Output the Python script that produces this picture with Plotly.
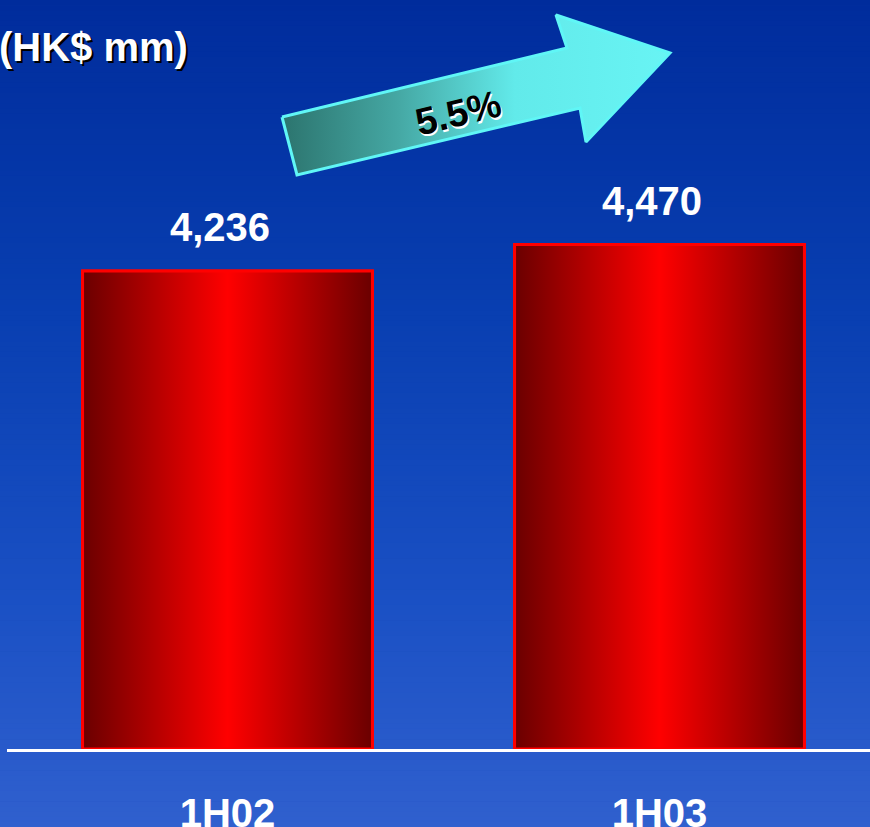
import plotly.graph_objects as go

# ---- data ----
categories = ["1H02", "1H03"]
values = [4236, 4470]
value_labels = ["4,236", "4,470"]
growth_label = "5.5%"
unit_label = "(HK$ mm)"

W, H = 870, 827
FONT = "Liberation Sans, Arial, sans-serif"

xpos = list(range(len(categories)))
bar_w = 0.671

fig = go.Figure()

# bar trace (data)
fig.add_trace(go.Bar(x=xpos, y=values, width=bar_w, marker=dict(color="#d00000", line=dict(color="#ff0000", width=3)),
                     showlegend=False, hoverinfo="skip"))

# gradient overlay for each bar, derived from the data
for xi, v in zip(xpos, values):
    x0, x1 = xi - bar_w / 2, xi + bar_w / 2
    fig.add_trace(go.Scatter(
        x=[x0, x1, x1, x0, x0], y=[0, 0, v, v, 0], mode="lines", fill="toself",
        line=dict(color="#ff0000", width=3),
        fillgradient=dict(type="horizontal",
                          colorscale=[[0, "#6a0000"], [0.5, "#ff0000"], [1, "#6a0000"]]),
        showlegend=False, hoverinfo="skip"))

# arrow on pixel overlay axes
ax = [282, 567, 556, 670, 586, 580, 297, 282]
ay = [117, 48, 15, 53, 142, 108, 175, 117]
fig.add_trace(go.Scatter(
    x=ax, y=ay, xaxis="x2", yaxis="y2", mode="lines", fill="toself",
    line=dict(color="#60f6f6", width=3),
    fillgradient=dict(type="horizontal",
                      colorscale=[[0, "#2c746e"], [0.3, "#45a8a4"], [0.6, "#62eaea"], [1, "#68f4f4"]]),
    showlegend=False, hoverinfo="skip"))

annotations = []
# value labels
for xi, v, t in zip(xpos, values, value_labels):
    annotations.append(dict(x=xi, y=v, xref="x", yref="y", text=f"<b>{t}</b>", showarrow=False,
                            xshift=-8, yshift=20, yanchor="bottom",
                            font=dict(family=FONT, size=40, color="white")))
# growth text with light shadow
for dx, dy, col in [(1.5, 1.5, "white"), (0, 0, "black")]:
    annotations.append(dict(x=458 + dx, y=113 + dy, xref="x2", yref="y2", text=f"<b>{growth_label}</b>",
                            showarrow=False, textangle=-13.5,
                            font=dict(family=FONT, size=38, color=col)))
# unit label with dark shadow
for dx, dy, col in [(2, 2, "black"), (0, 0, "white")]:
    annotations.append(dict(x=0, y=47, xref="x2", yref="y2", xshift=-3 + dx, yshift=-dy,
                            text=f"<b>{unit_label}</b>",
                            showarrow=False, xanchor="left", yanchor="middle",
                            font=dict(family=FONT, size=40, color=col)))

# background gradient strips
stops = [(0, (0, 44, 156)), (300, (8, 62, 176)), (600, (26, 80, 196)), (827, (48, 96, 206))]
shapes = []
n = 160
for i in range(n):
    y0 = H * i / n
    y1 = H * (i + 1) / n + 0.6
    ym = (y0 + y1) / 2
    for (sa, ca), (sb, cb) in zip(stops[:-1], stops[1:]):
        if sa <= ym <= sb:
            t = (ym - sa) / (sb - sa)
            c = tuple(int(round(a + (b - a) * t)) for a, b in zip(ca, cb))
            break
    shapes.append(dict(type="rect", xref="paper", yref="paper", x0=0, x1=1,
                       y0=1 - y1 / H, y1=1 - y0 / H, line=dict(width=0),
                       fillcolor=f"rgb{c}", layer="below"))

x_left, x_right, x_c0 = 7, 870, 227.5
scale = 432.0
base_px = 749
yscale = 478 / 4236

fig.update_layout(
    width=W, height=H, margin=dict(l=0, r=0, t=0, b=0, autoexpand=False),
    paper_bgcolor="#1040b0", plot_bgcolor="rgba(0,0,0,0)",
    shapes=shapes, annotations=annotations, showlegend=False,
    xaxis=dict(domain=[x_left / W, 1], range=[-(x_c0 - x_left) / scale, (x_right - x_c0) / scale],
               tickvals=xpos, ticktext=[f"<b>{c}</b>" for c in categories],
               tickfont=dict(family=FONT, size=40, color="white"),
               showgrid=False, zeroline=False, showline=True, linecolor="white", linewidth=3,
               ticks="", ticklabelstandoff=27, automargin=False, fixedrange=True),
    yaxis=dict(domain=[(H - base_px) / H, 1], range=[0, base_px / yscale], automargin=False,
               showgrid=False, zeroline=False, showticklabels=False, showline=False, fixedrange=True),
    xaxis2=dict(domain=[0, 1], range=[0, W], anchor="y2", visible=False, fixedrange=True),
    yaxis2=dict(domain=[0, 1], range=[H, 0], anchor="x2", visible=False, fixedrange=True),
)

fig.write_html("out.html")
